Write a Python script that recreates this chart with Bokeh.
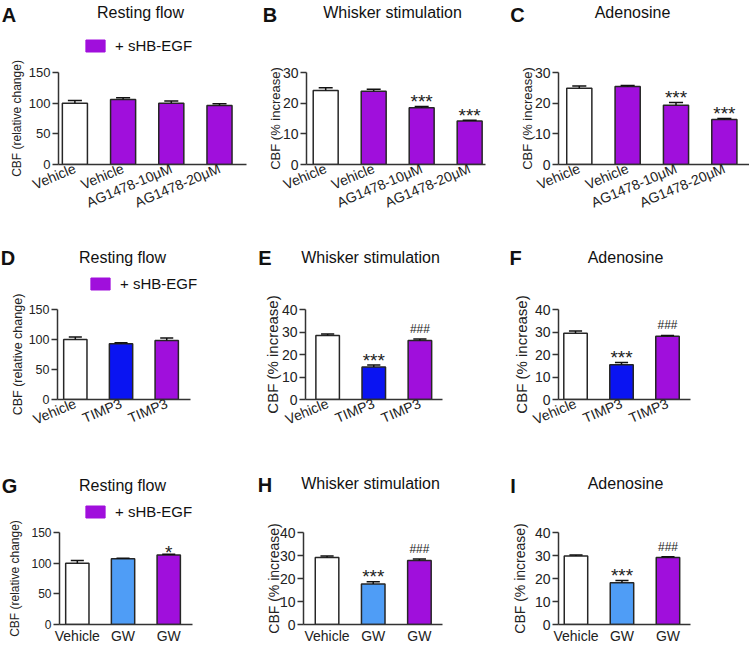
from bokeh.plotting import figure
from bokeh.layouts import column, row
from bokeh.models import Range1d, FixedTicker, Label, Legend, LegendItem, ColumnDataSource
from bokeh.embed import file_html
from bokeh.resources import INLINE
from bokeh.core.properties import value

# ---------------- data ----------------
ag_cats = ["Vehicle", "Vehicle", "AG1478-10μM", "AG1478-20μM"]
ag_groups = ["veh", "egf", "egf", "egf"]
a_vals = [100, 106, 100, 96]
a_errs = [4.5, 3.0, 3.5, 3.0]
a_sig = ["", "", "", ""]
b_vals = [24.1, 23.9, 18.5, 14.2]
b_errs = [0.9, 0.6, 0.4, 0.2]
b_sig = ["", "", "***", "***"]
c_vals = [24.9, 25.4, 19.3, 14.7]
c_errs = [0.7, 0.4, 0.9, 0.3]
c_sig = ["", "", "***", "***"]

timp_cats = ["Vehicle", "TIMP3", "TIMP3"]
timp_groups = ["veh", "timp", "egf"]
d_vals = [100, 93, 98.5]
d_errs = [4.3, 1.6, 3.8]
d_sig = ["", "", ""]
e_vals = [28.4, 14.5, 26.2]
e_errs = [0.7, 0.8, 0.7]
e_sig = ["", "***", "###"]
f_vals = [29.5, 15.4, 28.1]
f_errs = [1.0, 1.0, 0.4]
f_sig = ["", "***", "###"]

gw_cats = ["Vehicle", "GW", "GW"]
gw_groups = ["veh", "gw", "egf"]
g_vals = [100, 107, 113.5]
g_errs = [4.4, 1.0, 1.1]
g_sig = ["", "", "*"]
h_vals = [29.1, 17.6, 27.8]
h_errs = [0.7, 1.0, 0.7]
h_sig = ["", "***", "###"]
i_vals = [29.8, 18.2, 29.1]
i_errs = [0.4, 0.9, 0.4]
i_sig = ["", "***", "###"]

panel_letters = [["A", "B", "C"], ["D", "E", "F"], ["G", "H", "I"]]
panel_titles = ["Resting flow", "Whisker stimulation", "Adenosine"]
legend_label = "+ sHB-EGF"

# ---------------- styles ----------------
FONT = "Liberation Sans"
GROUP_COLORS = {"veh": "#ffffff", "egf": "#a00fdc", "timp": "#0a14f2", "gw": "#4f9df6"}
OUTLINE = "#262626"
AXIS = "#333333"
SIG_STYLE = {"***": ("19px", -5), "*": ("19px", -2), "###": ("12px", -10), "": ("12px", 0)}
W = 749


def make_panel(cats, groups, vals, errs, sig, yend, ytick_step, ylabel,
               geo, bw, rot, ytick_fs, ylab_fs, ylab_standoff):
    n = len(cats)
    idx = list(range(n))
    p = figure(width=geo[0], height=geo[1], min_border_left=geo[2], min_border_right=geo[3],
               min_border_top=geo[4], min_border_bottom=geo[5],
               x_range=Range1d(geo[6], geo[7]), y_range=Range1d(0, yend),
               output_backend="svg", toolbar_location=None)
    p.outline_line_color = None
    p.grid.visible = False

    cw = bw * 0.28
    tops = [v + e for v, e in zip(vals, errs)]
    src = ColumnDataSource(dict(
        x=idx, top=vals, err=tops,
        color=[GROUP_COLORS[g] for g in groups],
        c0=[i - cw for i in idx], c1=[i + cw for i in idx],
        sig=sig,
        fs=[SIG_STYLE[s][0] for s in sig],
        yoff=[SIG_STYLE[s][1] for s in sig],
    ))
    p.vbar(x="x", top="top", bottom=0, width=bw, source=src,
           fill_color="color", line_color=OUTLINE, line_width=1.5)
    p.segment(x0="x", y0="top", x1="x", y1="err", source=src, line_color="#111111", line_width=1.5)
    p.segment(x0="c0", y0="err", x1="c1", y1="err", source=src, line_color="#111111", line_width=1.5)
    p.text(x="x", y="err", text="sig", source=src, text_align="center",
           text_baseline="alphabetic", text_font=value(FONT), text_font_size="fs",
           y_offset="yoff", text_color="#222222")

    xa = p.xaxis[0]
    xa.ticker = FixedTicker(ticks=idx)
    xa.major_label_overrides = {i: c for i, c in enumerate(cats)}
    xa.major_tick_out = 0
    xa.major_tick_in = 0
    xa.minor_tick_out = 0
    xa.minor_tick_in = 0
    xa.axis_line_width = 1.5
    xa.axis_line_color = AXIS
    xa.major_label_text_font = FONT
    xa.major_label_text_font_size = "14px"
    xa.major_label_text_color = "#222222"
    xa.major_label_standoff = 3
    if rot:
        xa.major_label_orientation = rot

    ya = p.yaxis[0]
    ya.ticker = FixedTicker(ticks=list(range(0, yend + 1, ytick_step)))
    ya.major_tick_out = 6
    ya.major_tick_in = 0
    ya.minor_tick_out = 0
    ya.minor_tick_in = 0
    ya.axis_line_width = 1.5
    ya.axis_line_color = AXIS
    ya.major_tick_line_width = 1.5
    ya.major_tick_line_color = AXIS
    ya.major_label_text_font = FONT
    ya.major_label_text_font_size = ytick_fs
    ya.major_label_text_color = "#222222"
    ya.major_label_standoff = 2
    ya.axis_label = ylabel
    ya.axis_label_text_font = FONT
    ya.axis_label_text_font_style = "normal"
    ya.axis_label_text_font_size = ylab_fs
    ya.axis_label_text_color = "#222222"
    ya.axis_label_standoff = ylab_standoff
    return p


def make_header(height, letters, letter_pos, title_pos, legend_pos, groups, vals):
    h = figure(width=W, height=height, x_range=Range1d(0, W), y_range=Range1d(height, 0),
               min_border=0, x_axis_location=None, y_axis_location=None,
               output_backend="svg", toolbar_location=None)
    h.outline_line_color = None
    h.grid.visible = False
    for letter, (lx, ly) in zip(letters, letter_pos):
        h.add_layout(Label(x=lx, y=ly, text=letter, text_font=FONT, text_font_style="bold",
                           text_font_size="20px", text_align="center",
                           text_baseline="middle", text_color="#111111"))
    for title, (tx, ty) in zip(panel_titles, title_pos):
        h.add_layout(Label(x=tx, y=ty, text=title, text_font=FONT, text_font_size="16px",
                           text_align="center", text_baseline="middle", text_color="#111111"))
    # legend key for the "+ sHB-EGF" bars of this row (renderer kept hidden, only keyed)
    egf_src = ColumnDataSource(dict(
        x=[i for i, g in enumerate(groups) if g == "egf"],
        top=[v for v, g in zip(vals, groups) if g == "egf"]))
    r = h.vbar(x="x", top="top", width=0.5, source=egf_src,
               fill_color=GROUP_COLORS["egf"], line_color=GROUP_COLORS["egf"])
    r.visible = False
    leg = Legend(items=[LegendItem(label=legend_label, renderers=[r])],
                 location=legend_pos, orientation="horizontal",
                 glyph_width=24, glyph_height=15, label_height=15,
                 label_standoff=8, padding=0, margin=0, spacing=0,
                 border_line_alpha=0, background_fill_alpha=0,
                 inactive_fill_alpha=0.0,
                 label_text_font=FONT, label_text_font_size="15px",
                 label_text_color="#111111")
    h.add_layout(leg)
    return h


ROT = 0.4
# geo: width, height, left, right, top, bottom, x_start, x_end
H1 = make_header(56, panel_letters[0], [(8.5, 14), (269.5, 14), (517, 14)],
                 [(140, 12), (392, 12), (632, 12)], (83, 2), ag_groups, a_vals)
pA = make_panel(ag_cats, ag_groups, a_vals, a_errs, a_sig, 150, 50, "CBF (relative change)",
                (252, 164, 58, 6, 16, 56, -0.34, 3.56), 0.52, ROT, "13px", "12px", 2)
pB = make_panel(ag_cats, ag_groups, b_vals, b_errs, b_sig, 30, 10, "CBF (% increase)",
                (253, 164, 54, 20, 16, 56, -0.40, 3.33), 0.52, ROT, "14px", "13px", -3)
pC = make_panel(ag_cats, ag_groups, c_vals, c_errs, c_sig, 30, 10, "CBF (% increase)",
                (244, 164, 53, 0, 16, 56, -0.43, 3.52), 0.52, ROT, "14px", "13px", -3)

H2 = make_header(73, panel_letters[1], [(7.5, 37), (264.5, 37), (515, 37)],
                 [(122, 37), (370, 37), (625, 37)], (88, 1), timp_groups, d_vals)
pD = make_panel(timp_cats, timp_groups, d_vals, d_errs, d_sig, 150, 50, "CBF (relative change)",
                (252, 144, 57, 62, 16, 36, -0.39, 2.52), 0.51, ROT, "12.5px", "12.5px", 1)
pE = make_panel(timp_cats, timp_groups, e_vals, e_errs, e_sig, 40, 10, "CBF (% increase)",
                (253, 144, 53, 63, 16, 36, -0.48, 2.49), 0.51, ROT, "14px", "15px", -2)
pF = make_panel(timp_cats, timp_groups, f_vals, f_errs, f_sig, 40, 10, "CBF (% increase)",
                (244, 144, 53, 59, 16, 36, -0.37, 2.50), 0.51, ROT, "14px", "15px", 2)

H3 = make_header(83, panel_letters[2], [(9, 48), (264.5, 47), (512.5, 48)],
                 [(122, 48), (370, 46), (625, 46)], (83, 0), gw_groups, g_vals)
pG = make_panel(gw_cats, gw_groups, g_vals, g_errs, g_sig, 150, 50, "CBF (relative change)",
                (252, 128, 59, 60, 12, 24, -0.39, 2.52), 0.51, None, "12px", "12px", 6)
pH = make_panel(gw_cats, gw_groups, h_vals, h_errs, h_sig, 40, 10, "CBF (% increase)",
                (253, 128, 51, 63, 12, 24, -0.51, 2.50), 0.51, None, "14px", "14px", -5)
pI = make_panel(gw_cats, gw_groups, i_vals, i_errs, i_sig, 40, 10, "CBF (% increase)",
                (244, 128, 53, 59, 12, 24, -0.38, 2.49), 0.51, None, "14px", "14px", 4)

layout = column(H1, row(pA, pB, pC), H2, row(pD, pE, pF), H3, row(pG, pH, pI))

open("out.html", "w").write(file_html(layout, INLINE))
